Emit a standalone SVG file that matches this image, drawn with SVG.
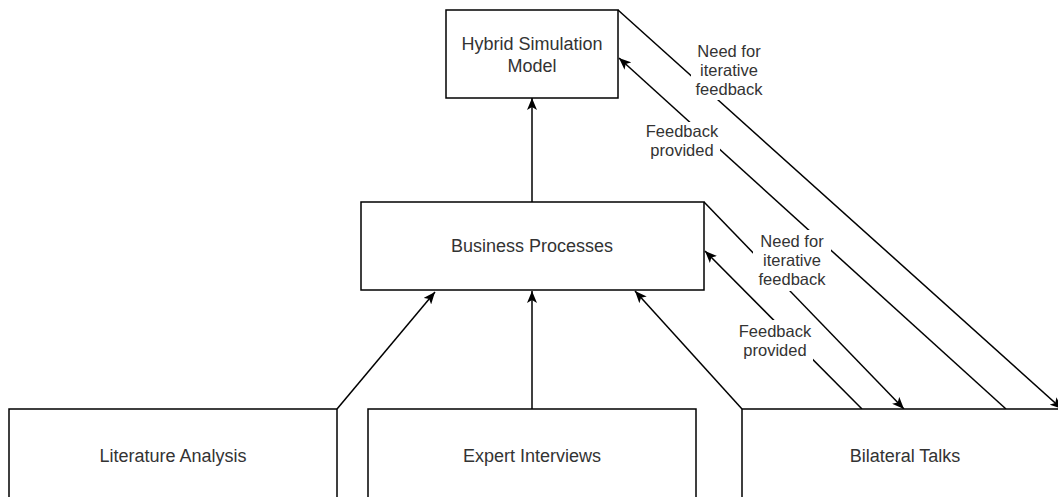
<svg xmlns="http://www.w3.org/2000/svg" width="1058" height="497" viewBox="0 0 1058 497">
<style>
.box{fill:#fff;stroke:#000;stroke-width:1.5}
.nt{font-family:"Liberation Sans",Arial,sans-serif;font-size:18px;fill:#333;text-anchor:middle}
.et{font-family:"Liberation Sans",Arial,sans-serif;font-size:16.5px;fill:#333;text-anchor:middle}
.ln{fill:none;stroke:#000;stroke-width:1.5}
.bg{fill:#fff;stroke:none}
</style>
<defs>
<marker id="arr" viewBox="0 0 12 10" refX="12" refY="5" markerWidth="12" markerHeight="10" markerUnits="userSpaceOnUse" orient="auto">
<path d="M0,0 L12,5 L0,10 L3,5 z" fill="#000"/>
</marker>
</defs>
<g id="connectors">
<line class="ln" x1="337" y1="409" x2="435" y2="292" marker-end="url(#arr)"/>
<line class="ln" x1="532" y1="409" x2="532" y2="291" marker-end="url(#arr)"/>
<line class="ln" x1="742" y1="409" x2="635" y2="291" marker-end="url(#arr)"/>
<line class="ln" x1="532" y1="202" x2="532" y2="98" marker-end="url(#arr)"/>
<line class="ln" x1="618" y1="10" x2="1062" y2="409" marker-end="url(#arr)"/>
<line class="ln" x1="1006" y1="409" x2="619" y2="58" marker-end="url(#arr)"/>
<line class="ln" x1="704" y1="202" x2="904" y2="409" marker-end="url(#arr)"/>
<line class="ln" x1="862" y1="409" x2="705" y2="251" marker-end="url(#arr)"/>
<g id="label-need-1">
<rect class="bg" x="691" y="40" width="76" height="60"/>
<text class="et" x="729" y="57">Need for</text>
<text class="et" x="729" y="76">iterative</text>
<text class="et" x="729" y="95">feedback</text>
</g>
<g id="label-fb-1">
<rect class="bg" x="642" y="122" width="78" height="41"/>
<text class="et" x="682" y="137">Feedback</text>
<text class="et" x="682" y="156">provided</text>
</g>
<g id="label-need-2">
<rect class="bg" x="753" y="230" width="78" height="61"/>
<text class="et" x="792" y="247">Need for</text>
<text class="et" x="792" y="266">iterative</text>
<text class="et" x="792" y="285">feedback</text>
</g>
<g id="label-fb-2">
<rect class="bg" x="736" y="320" width="77" height="41"/>
<text class="et" x="775" y="337">Feedback</text>
<text class="et" x="775" y="356">provided</text>
</g>
</g>
<g id="hybrid">
<rect class="box" x="446" y="10" width="172" height="88"/>
<text class="nt" x="532" y="50">Hybrid Simulation</text>
<text class="nt" x="532" y="72">Model</text>
</g>
<g id="business">
<rect class="box" x="361" y="202" width="343" height="88"/>
<text class="nt" x="532" y="252">Business Processes</text>
</g>
<g id="literature">
<rect class="box" x="9" y="409" width="328" height="100"/>
<text class="nt" x="173" y="462">Literature Analysis</text>
</g>
<g id="expert">
<rect class="box" x="368" y="409" width="328" height="100"/>
<text class="nt" x="532" y="462">Expert Interviews</text>
</g>
<g id="bilateral">
<rect class="box" x="742" y="409" width="328" height="100"/>
<text class="nt" x="905" y="462">Bilateral Talks</text>
</g>
</svg>
